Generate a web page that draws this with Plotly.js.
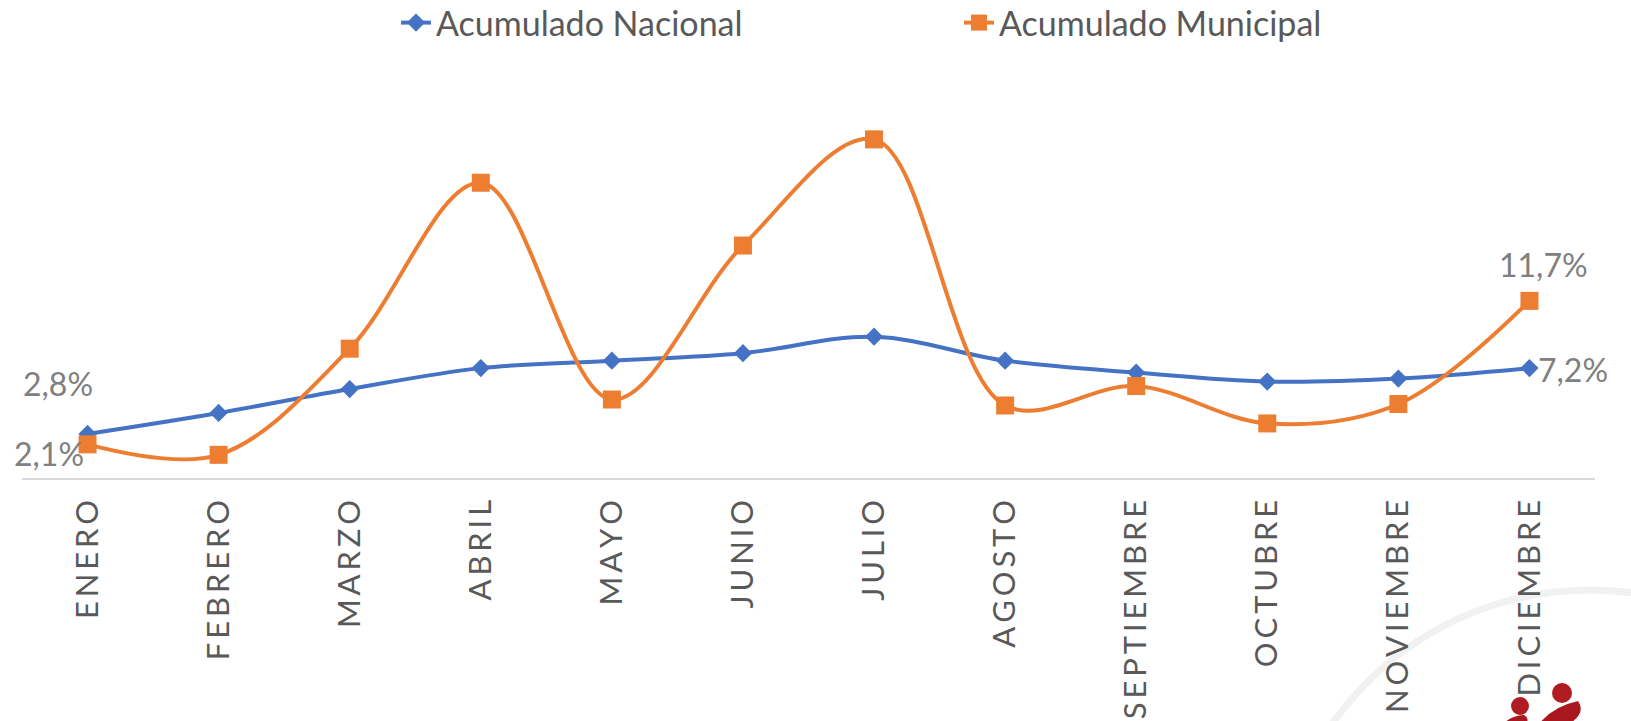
<!DOCTYPE html>
<html>
<head>
<meta charset="utf-8">
<script src="https://cdn.plot.ly/plotly-3.0.1.min.js"></script>
<style>html,body{margin:0;padding:0;background:#fff;}#chart{width:1631px;height:721px;}</style>
</head>
<body>
<div id="chart"></div>
<script>
const months = ["ENERO","FEBRERO","MARZO","ABRIL","MAYO","JUNIO","JULIO","AGOSTO","SEPTIEMBRE","OCTUBRE","NOVIEMBRE","DICIEMBRE"];
const nacional = [2.8, 4.2, 5.8, 7.2, 7.7, 8.2, 9.3, 7.7, 6.9, 6.3, 6.5, 7.2];
const municipal = [2.1, 1.4, 8.5, 19.6, 5.1, 15.4, 22.5, 4.7, 6.0, 3.5, 4.8, 11.7];
const seriesNames = ["Acumulado Nacional", "Acumulado Municipal"];

const W = 1631, H = 721;
const M = {l: 22, r: 36, t: 102, b: 243, autoexpand: false};
const PW = W - M.l - M.r, PH = H - M.t - M.b;
const px2x = p => (p - M.l) / PW;
const py2y = p => (H - M.b - p) / PH;

const fmt = v => v.toFixed(1).replace('.', ',') + '%';
const spaced = s => s.split('').join('\u2009');

const blue = '#4472C4', orange = '#ED7D31';
const font = 'Lato, "Open Sans", sans-serif';

const traces = [
  {x: months, y: nacional, name: seriesNames[0], type: 'scatter', mode: 'lines+markers',
   line: {color: blue, width: 4, shape: 'spline', smoothing: 1},
   marker: {symbol: 'diamond', size: 14, color: blue}, hoverinfo: 'skip'},
  {x: months, y: municipal, name: seriesNames[1], type: 'scatter', mode: 'lines+markers',
   line: {color: orange, width: 4, shape: 'spline', smoothing: 1},
   marker: {symbol: 'square', size: 18, color: orange}, hoverinfo: 'skip'}
];

const last = months.length - 1;
const lblFont = {family: font, size: 32, color: '#808080'};
const annotations = [
  {x: months[0], y: nacional[0], text: fmt(nacional[0]), showarrow: false, xanchor: 'center', yanchor: 'middle', xshift: -30, yshift: 50, font: lblFont},
  {x: months[0], y: municipal[0], text: fmt(municipal[0]), showarrow: false, xanchor: 'right', yanchor: 'middle', xshift: -2, yshift: -9, font: lblFont},
  {x: months[last], y: municipal[last], text: fmt(municipal[last]), showarrow: false, xanchor: 'center', yanchor: 'middle', xshift: 14, yshift: 36, font: lblFont},
  {x: months[last], y: nacional[last], text: fmt(nacional[last]), showarrow: false, xanchor: 'left', yanchor: 'middle', xshift: 7, yshift: -1, font: lblFont}
];

const shapes = [
  {type: 'circle', xref: 'paper', yref: 'paper', layer: 'below',
   x0: px2x(1275), x1: px2x(1905), y0: py2y(590), y1: py2y(1220),
   line: {color: '#f1f1f1', width: 7}},
  {type: 'circle', xref: 'paper', yref: 'paper', layer: 'below',
   x0: px2x(1552), x1: px2x(1572), y0: py2y(683), y1: py2y(703),
   fillcolor: '#b01c22', line: {width: 0}},
  {type: 'circle', xref: 'paper', yref: 'paper', layer: 'below',
   x0: px2x(1511), x1: px2x(1529), y0: py2y(697), y1: py2y(715),
   fillcolor: '#b01c22', line: {width: 0}},
  {type: 'path', xref: 'paper', yref: 'paper', layer: 'below', fillcolor: '#a8181e', line: {width: 0},
   path: `M ${px2x(1578)} ${py2y(701)} Q ${px2x(1588)} ${py2y(715)} ${px2x(1562)} ${py2y(728)} L ${px2x(1536)} ${py2y(728)} Q ${px2x(1550)} ${py2y(707)} ${px2x(1578)} ${py2y(701)} Z`},
  {type: 'path', xref: 'paper', yref: 'paper', layer: 'below', fillcolor: '#a8181e', line: {width: 0},
   path: `M ${px2x(1524)} ${py2y(715)} Q ${px2x(1532)} ${py2y(720)} ${px2x(1522)} ${py2y(728)} L ${px2x(1500)} ${py2y(728)} Q ${px2x(1508)} ${py2y(716)} ${px2x(1524)} ${py2y(715)} Z`}
];

const layout = {
  width: W, height: H,
  margin: M,
  paper_bgcolor: '#ffffff', plot_bgcolor: '#ffffff',
  showlegend: true,
  legend: {orientation: 'h', x: px2x(396), xanchor: 'left', y: py2y(23), yanchor: 'middle',
           font: {family: font, size: 34, color: '#595959'}, entrywidth: 518, entrywidthmode: 'pixels',
           bgcolor: 'rgba(0,0,0,0)'},
  xaxis: {type: 'category', range: [-0.5, 11.5], tickvals: months, ticktext: months.map(spaced),
          tickangle: -90, ticks: '', ticklabelstandoff: 8, automargin: false,
          tickfont: {family: font, size: 31, color: '#595959'},
          showline: true, linecolor: '#d9d9d9', linewidth: 1.5, showgrid: false, zeroline: false, fixedrange: true},
  yaxis: {range: [-0.15, 25], showticklabels: false, showgrid: false, zeroline: false, showline: false, ticks: '', fixedrange: true, automargin: false},
  annotations: annotations,
  shapes: shapes
};

Plotly.newPlot('chart', traces, layout, {staticPlot: true, displayModeBar: false});
</script>
</body>
</html>
